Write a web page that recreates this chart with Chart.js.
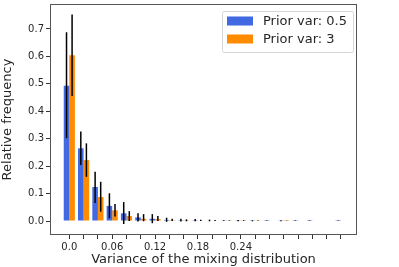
<!DOCTYPE html>
<html>
<head>
<meta charset="utf-8">
<script src="https://cdn.jsdelivr.net/npm/chart.js@4"></script>
<style>
  html, body { margin: 0; padding: 0; background: #fff; }
  #wrap { width: 399px; height: 267px; }
</style>
</head>
<body>
<div id="wrap"><canvas id="chart" width="399" height="267"></canvas></div>
<script>
// bin centres (variance of the mixing distribution)
const bins = [0.00, 0.02, 0.04, 0.06, 0.08, 0.10, 0.12, 0.14, 0.16, 0.18,
              0.20, 0.22, 0.24, 0.26, 0.28, 0.30, 0.32, 0.34, 0.36, 0.38];

const blueVals  = [0.493, 0.265, 0.124, 0.055, 0.028, 0.013, 0.008, 0.004, 0.003, 0.003,
                   0.002, 0.001, 0.001, 0.001, 0.0005, 0.001, 0.0005, 0.0005, 0, 0.0005];
const blueLow   = [0.302, 0.204, 0.066, 0.010, -0.011, -0.002, -0.008, -0.003, -0.002, -0.001,
                   -0.001, 0, -0.001, -0.001, 0, -0.001, 0, 0, 0, 0];
const blueHigh  = [0.688, 0.326, 0.180, 0.101, 0.069, 0.028, 0.025, 0.012, 0.008, 0.007,
                   0.005, 0.003, 0.004, 0.003, 0.002, 0.003, 0.002, 0.002, 0, 0.002];

const orangeVals = [0.604, 0.222, 0.0875, 0.039, 0.018, 0.008, 0.007, 0.003, 0.003, 0.002,
                    0.002, 0.001, 0.001, 0.001, 0, 0.0005, 0, 0, 0, 0];
const orangeLow  = [0.456, 0.161, 0.034, 0.016, 0.000, -0.001, 0.000, 0, -0.001, 0,
                    0, 0, 0, 0, 0, 0, 0, 0, 0, 0];
const orangeHigh = [0.753, 0.283, 0.143, 0.062, 0.036, 0.025, 0.018, 0.008, 0.006, 0.005,
                    0.004, 0.002, 0.003, 0.002, 0, 0.001, 0, 0, 0, 0];

const xTicks = bins;
const xLabels = [0.00, 0.06, 0.12, 0.18, 0.24];
const yTicks = [0, 0.1, 0.2, 0.3, 0.4, 0.5, 0.6, 0.7];

const seriesNames = ['Prior var: 0.5', 'Prior var: 3'];
const seriesColors = ['#4169E1', '#FF8C00'];
const errs = [[blueLow, blueHigh], [orangeLow, orangeHigh]];

const textColor = '#262626';
const fontFamily = '"DejaVu Sans", sans-serif';

// black error bars drawn on top of each bar
const errorBars = {
  id: 'errorBars',
  afterDatasetsDraw(chart) {
    const ctx = chart.ctx;
    const y = chart.scales.y;
    ctx.save();
    ctx.strokeStyle = '#000';
    ctx.lineWidth = 1.5;
    chart.data.datasets.forEach((ds, di) => {
      const meta = chart.getDatasetMeta(di);
      meta.data.forEach((bar, i) => {
        const lo = errs[di][0][i], hi = errs[di][1][i];
        if (hi === lo) return;
        ctx.beginPath();
        ctx.moveTo(bar.x, y.getPixelForValue(lo));
        ctx.lineTo(bar.x, y.getPixelForValue(hi));
        ctx.stroke();
      });
    });
    ctx.restore();
  }
};

// matplotlib style frame + legend box
const frameAndLegend = {
  id: 'frameAndLegend',
  afterDraw(chart) {
    const ctx = chart.ctx;
    const a = chart.chartArea;
    ctx.save();
    ctx.strokeStyle = '#555';
    ctx.lineWidth = 1;
    ctx.strokeRect(a.left + 0.5, a.top + 0.5, a.right - a.left - 1, a.bottom - a.top - 1);

    const bx = 222.5, by = 11.5, bw = 131, bh = 41;
    ctx.fillStyle = 'rgba(255,255,255,0.8)';
    ctx.strokeStyle = '#d6d6d6';
    ctx.beginPath();
    ctx.roundRect(bx, by, bw, bh, 2);
    ctx.fill();
    ctx.stroke();

    ctx.font = '13px ' + fontFamily;
    ctx.textBaseline = 'middle';
    seriesNames.forEach((name, i) => {
      const cy = 21 + i * 18;
      ctx.fillStyle = seriesColors[i];
      ctx.fillRect(227, cy - 4.5, 26, 9);
      ctx.fillStyle = textColor;
      ctx.fillText(name, 263, cy + 0.5);
    });
    ctx.restore();
  }
};

new Chart(document.getElementById('chart'), {
  type: 'bar',
  data: {
    datasets: seriesNames.map((name, i) => ({
      label: name,
      data: bins.map((b, j) => ({ x: b, y: (i === 0 ? blueVals : orangeVals)[j] })),
      backgroundColor: seriesColors[i],
      borderWidth: 0,
      categoryPercentage: 0.78,
      barPercentage: 1.0
    }))
  },
  options: {
    responsive: false,
    animation: false,
    layout: { padding: { top: 4, right: 42, left: 0, bottom: 0 } },
    plugins: { legend: { display: false }, tooltip: { enabled: false } },
    scales: {
      x: {
        type: 'linear',
        offset: false,
        min: -0.027,
        max: 0.4024,
        afterBuildTicks: s => { s.ticks = xTicks.map(v => ({ value: v })); },
        afterFit: s => { s.height = 32; s.paddingLeft = 0; s.paddingRight = 0; },
        grid: { drawOnChartArea: false, drawTicks: true, tickLength: 4, color: '#333', offset: false },
        border: { display: false },
        ticks: {
          autoSkip: false,
          maxRotation: 0,
          padding: 2,
          color: textColor,
          font: { family: fontFamily, size: 10 },
          callback: v => {
            const hit = xLabels.find(l => Math.abs(l - v) < 1e-6);
            if (hit === undefined) return '';
            return hit === 0 ? '0.0' : String(+hit.toFixed(2));
          }
        },
        title: {
          display: true,
          text: 'Variance of the mixing distribution',
          color: textColor,
          font: { family: fontFamily, size: 13 },
          padding: { top: 0, bottom: 0 }
        }
      },
      y: {
        min: -0.051,
        max: 0.791,
        afterBuildTicks: s => { s.ticks = yTicks.map(v => ({ value: v })); },
        afterFit: s => { s.width = 50; s.paddingTop = 0; s.paddingBottom = 0; },
        grid: { drawOnChartArea: false, drawTicks: true, tickLength: 4, color: '#333' },
        border: { display: false },
        ticks: {
          padding: 2,
          color: textColor,
          font: { family: fontFamily, size: 10 },
          callback: v => v.toFixed(1)
        },
        title: {
          display: true,
          text: 'Relative frequency',
          color: textColor,
          font: { family: fontFamily, size: 13 },
          padding: { top: 0, bottom: 2 }
        }
      }
    }
  },
  plugins: [errorBars, frameAndLegend]
});
</script>
</body>
</html>
